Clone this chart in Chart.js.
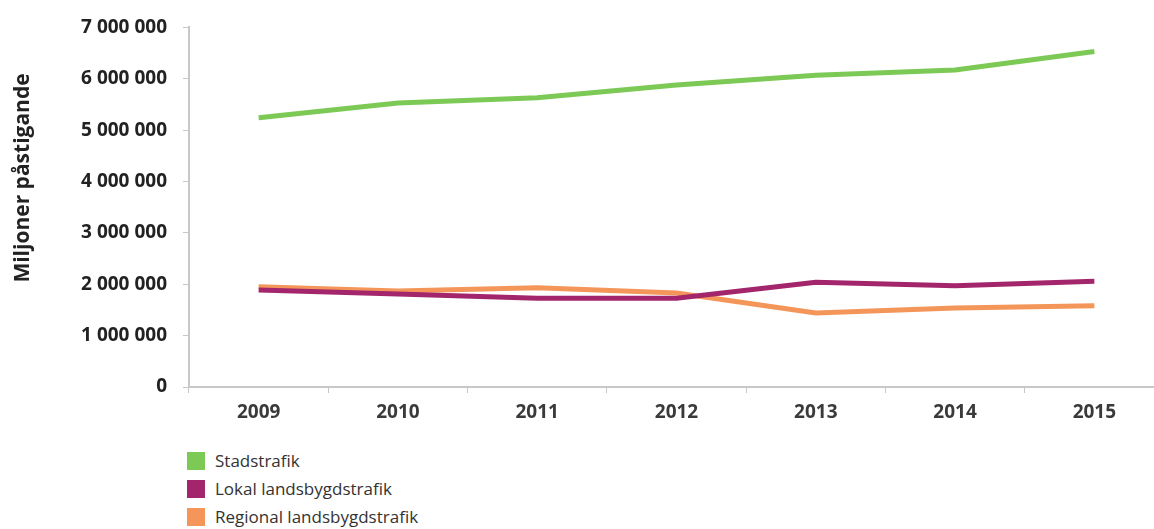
<!DOCTYPE html>
<html>
<head>
<meta charset="utf-8">
<script src="https://cdn.jsdelivr.net/npm/chart.js@4"></script>
<style>
	html, body { margin: 0; padding: 0; background: #fff; overflow: hidden; }
	#wrap { position: absolute; left: 0; top: 0; width: 1180px; height: 430px; }
	#legend { position: absolute; left: 187px; top: 447px; font-family: 'Open Sans', sans-serif; font-size: 17px; color: #333; }
	#legend div { height: 28px; line-height: 28px; display: flex; align-items: center; }
	#legend span.box { display: inline-block; width: 18px; height: 18px; margin-right: 10px; }
</style>
</head>
<body>
<div id="wrap"><canvas id="myChart"></canvas></div>
<div id="legend"></div>
<script>
const years = ['2009', '2010', '2011', '2012', '2013', '2014', '2015'];
const seriesNames = ['Stadstrafik', 'Lokal landsbygdstrafik', 'Regional landsbygdstrafik'];
const stadstrafik = [5240000, 5530000, 5630000, 5880000, 6070000, 6170000, 6530000];
const lokal = [1890000, 1810000, 1730000, 1730000, 2040000, 1970000, 2060000];
const regional = [1950000, 1870000, 1930000, 1830000, 1440000, 1540000, 1580000];
const colors = ['#7dc955', '#a3266c', '#f4965a'];
const yTitle = 'Miljoner påstigande';

const seriesValues = [stadstrafik, lokal, regional];

// y-axis title sits a bit above the middle of the axis in the original
const titlePlugin = {
	id: 'ytitle',
	afterDraw(chart) {
		const c = chart.ctx;
		c.save();
		c.translate(23, 178);
		c.rotate(-Math.PI / 2);
		c.font = 'bold 21px "Open Sans"';
		c.fillStyle = '#222';
		c.textAlign = 'center';
		c.textBaseline = 'middle';
		c.fillText(yTitle, 0, 0);
		c.restore();
	}
};

const ctx = document.getElementById('myChart').getContext('2d');
const myChart = new Chart(ctx, {
	type: 'line',
	data: {
		labels: years,
		datasets: seriesNames.map((name, i) => {
			return {
				label: name,
				data: seriesValues[i],
				borderColor: colors[i],
				backgroundColor: colors[i],
				borderWidth: 5,
				pointRadius: 0,
				tension: 0,
				fill: false
			};
		})
	},
	options: {
		responsive: true,
		maintainAspectRatio: false,
		animation: false,
		layout: { padding: { top: 25, right: 16, left: 0, bottom: 0 } },
		plugins: {
			legend: { display: false },
			tooltip: { enabled: false }
		},
		scales: {
			x: {
				offset: true,
				grid: { drawOnChartArea: false, offset: true, color: '#c8c8c8', tickLength: 6 },
				border: { color: '#c8c8c8', width: 2 },
				ticks: {
					color: '#3a3a3a',
					padding: 8,
					font: { family: 'Open Sans', size: 19, weight: 'bold' }
				},
				afterFit: (scale) => { scale.height = 43; }
			},
			y: {
				min: 0,
				max: 7000000,
				ticks: {
					stepSize: 1000000,
					color: '#222',
					padding: 16,
					font: { family: 'Open Sans', size: 19, weight: 'bold' },
					callback: (v) => v.toLocaleString('sv-SE').replace(/\s/g, ' ')
				},
				grid: { drawOnChartArea: false, color: '#c8c8c8', tickLength: 6 },
				border: { color: '#c8c8c8', width: 2 },
				afterFit: (scale) => { scale.width = 189; }
			}
		}
	},
	plugins: [titlePlugin]
});

// legend built from the same names and colours
const legend = document.getElementById('legend');
seriesNames.forEach((name, i) => {
	const row = document.createElement('div');
	row.innerHTML = '<span class="box" style="background:' + colors[i] + '"></span>' + name;
	legend.appendChild(row);
});
</script>
</body>
</html>
